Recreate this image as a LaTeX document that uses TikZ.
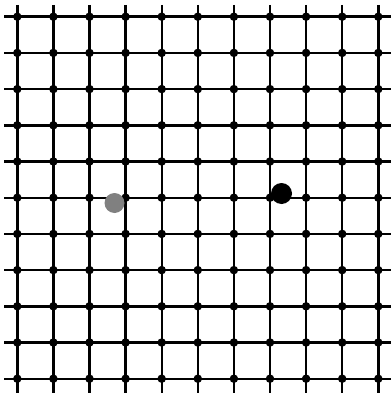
\documentclass[tikz,border=0pt]{standalone}
\begin{document}
\begin{tikzpicture}[x=1pt,y=-1pt,
  gridline/.style={line width=2.4pt,black},
  knot/.style={circle,fill=black,inner sep=0pt,minimum size=8.5pt},
  bigblack/.style={circle,fill=black,inner sep=0pt,minimum size=21pt},
  biggray/.style={circle,fill=black!50,inner sep=0pt,minimum size=20pt}]
\useasboundingbox (0,0) rectangle (391,396);
\foreach \i in {0,...,10}{
  \draw[gridline] (4,{16.7+36.2*\i}) -- (391,{16.7+36.2*\i});
  \draw[gridline] ({17.3+36.1*\i},5) -- ({17.3+36.1*\i},393);
}
\foreach \i in {0,...,10}{
  \foreach \j in {0,...,10}{
    \node[knot] (k-\i-\j) at ({17.3+36.1*\i},{16.7+36.2*\j}) {};
  }
}
\node[biggray] (g) at (114.5,203) {};
\node[bigblack] (b) at (281.5,193.5) {};
\end{tikzpicture}
\end{document}
